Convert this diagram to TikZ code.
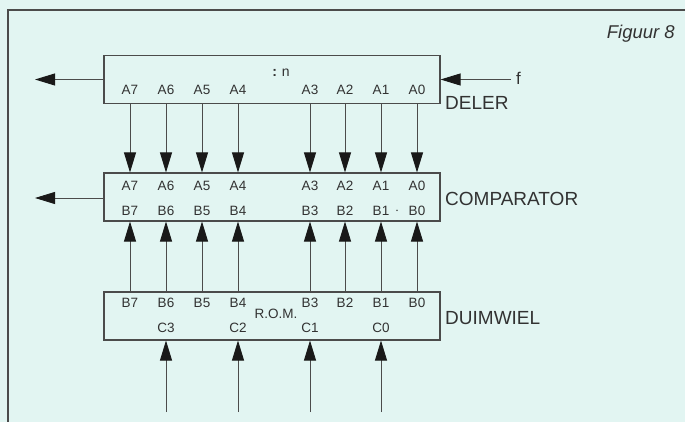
\documentclass[tikz,border=0pt]{standalone}
\usepackage{fontspec}
\setmainfont{Liberation Sans}
\usetikzlibrary{arrows.meta}
\definecolor{bg}{RGB}{226,245,242}
\definecolor{ln}{RGB}{75,75,75}
\definecolor{tx}{RGB}{50,50,50}
\definecolor{hd}{RGB}{25,25,25}
\begin{document}
\begin{tikzpicture}[x=1pt,y=-1pt,
  box/.style={draw=ln,line width=1.1pt,minimum width=336pt,minimum height=48pt,inner sep=0pt},
  pin/.style={text=tx,font=\fontsize{13.5}{13.5}\selectfont,inner sep=0pt},
  big/.style={text=tx,font=\fontsize{19}{19}\selectfont,inner sep=0pt,anchor=west},
  arr/.style={draw=ln,line width=0.9pt,-{Triangle[length=20pt,width=12pt,color=hd]}},
  frame/.style={draw=ln,line width=1.3pt}]
\useasboundingbox (0,0) rectangle (685,422);
\fill[bg] (0,0) rectangle (685,422);
\draw[frame] (685,10) -- (8,10) -- (8,422);
\node[text=tx,font=\fontsize{18.5}{18.5}\selectfont\itshape,anchor=east,inner sep=0pt] (fig) at (675,34) {Figuur 8};
% boxes
\node[box] (deler) at (272,79.5) {};
\node[box] (comp) at (272,197) {};
\node[box] (rom) at (272,316) {};
\node[big] (delerlbl) at (445,103) {DELER};
\node[big] (complbl) at (445,199) {COMPARATOR};
\node[big] (romlbl) at (445,318) {DUIMWIEL};
% side arrows
\coordinate (dout) at (35,79.5);
\coordinate (cout) at (35,198);
\coordinate (fin) at (511,79.5);
\node[text=tx,font=\fontsize{17}{17}\selectfont,inner sep=0pt,anchor=west] (flbl) at (516,78) {f};
\draw[arr] (deler.west) -- (dout);
\draw[arr] (comp.west |- cout) -- (cout);
\draw[arr] (fin) -- (deler.east);
% columns
\foreach \n/\x in {7/130,6/166,5/202,4/238,3/310,2/345,1/381,0/417}{
  \coordinate (c\n) at (\x,0);
  \node[pin] (da\n) at (\x,90) {A\n};
  \node[pin] (ca\n) at (\x,186) {A\n};
  \node[pin] (cb\n) at (\x,211) {B\n};
  \node[pin] (rb\n) at (\x,303) {B\n};
  \draw[arr] (deler.south -| c\n) -- (comp.north -| c\n);
  \draw[arr] (rom.north -| c\n) -- (comp.south -| c\n);
}
\node[pin] (b1dot) at (397,211) {$\cdot$};
\node[pin,font=\fontsize{14}{14}\selectfont] (divn) at (281,73) {\textbf{:}\,\,n};
\node[pin] (romtxt) at (276,314) {R.O.M.};
\foreach \k/\x in {3/166,2/238,1/310,0/381}{
  \node[pin] (rc\k) at (\x,328) {C\k};
  \coordinate (in\k) at (\x,412);
  \draw[arr] (in\k) -- (rom.south -| in\k);
}
\end{tikzpicture}
\end{document}
